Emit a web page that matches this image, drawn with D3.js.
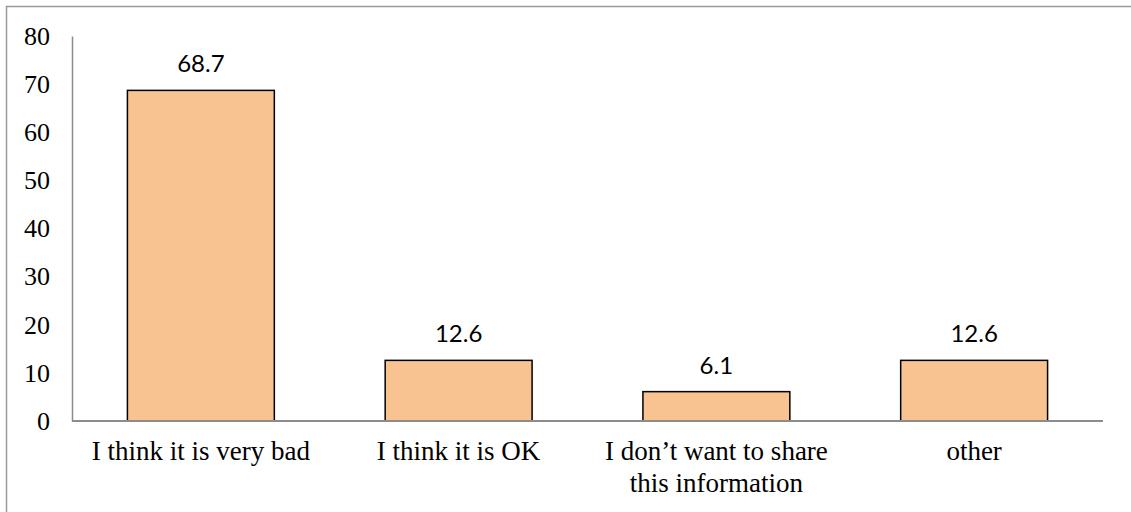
<!DOCTYPE html>
<html><head><meta charset="utf-8">
<script src="https://cdn.jsdelivr.net/npm/d3@7"></script>
<style>body{margin:0;background:#fff;} svg{display:block;}</style>
</head><body>
<svg id="c" width="1131" height="512"></svg>
<script>
const categories = [["I think it is very bad"], ["I think it is OK"], ["I don’t want to share", "this information"], ["other"]];
const values = [68.7, 12.6, 6.1, 12.6];
const yTicks = [0, 10, 20, 30, 40, 50, 60, 70, 80];

const svg = d3.select("#c");
svg.append("rect").attr("x", 6.5).attr("y", 6.5).attr("width", 1140).attr("height", 520)
  .attr("fill", "none").attr("stroke", "#9a9a9a").attr("stroke-width", 1.5);

const mLeft = 72, mRight = 1103, mTop = 36, mBottom = 421;
const x = d3.scaleBand().domain(d3.range(values.length)).range([mLeft, mRight]).paddingInner(0.43).paddingOuter(0.215);
const y = d3.scaleLinear().domain([0, 80]).range([mBottom, mTop]);

// y axis
const yAxis = d3.axisLeft(y).tickValues(yTicks).tickSize(0).tickPadding(22);
const gy = svg.append("g").attr("transform", `translate(${mLeft},0)`).call(yAxis);
gy.select(".domain").attr("stroke", "#8c8c8c").attr("stroke-width", 1.5);
gy.selectAll("text").attr("font-family", "Liberation Serif").attr("font-size", 26).attr("fill", "#000");

// bars
svg.selectAll("rect.bar").data(values).join("rect").attr("class", "bar")
  .attr("x", (d, i) => x(i)).attr("width", x.bandwidth())
  .attr("y", d => y(d)).attr("height", d => y(0) - y(d))
  .attr("fill", "#f9c291").attr("stroke", "#000").attr("stroke-width", 1.5);

// x axis
svg.append("line").attr("x1", mLeft).attr("x2", mRight).attr("y1", mBottom).attr("y2", mBottom)
  .attr("stroke", "#8c8c8c").attr("stroke-width", 2);

// value labels
svg.selectAll("text.val").data(values).join("text").attr("class", "val")
  .attr("x", (d, i) => x(i) + x.bandwidth() / 2).attr("y", d => y(d) - 18)
  .attr("text-anchor", "middle").attr("font-family", "Lato, 'Noto Sans', sans-serif").attr("font-size", 24)
  .attr("fill", "#000").text(d => d.toFixed(1));

// category labels
const cg = svg.selectAll("text.cat").data(categories).join("text").attr("class", "cat")
  .attr("x", (d, i) => x(i) + x.bandwidth() / 2).attr("y", 460)
  .attr("text-anchor", "middle").attr("font-family", "Liberation Serif").attr("font-size", 27).attr("fill", "#000");
cg.selectAll("tspan").data(d => d).join("tspan")
  .attr("x", function () { return d3.select(this.parentNode).attr("x"); })
  .attr("dy", (d, i) => i === 0 ? 0 : 32).text(d => d);
</script>
</body></html>
